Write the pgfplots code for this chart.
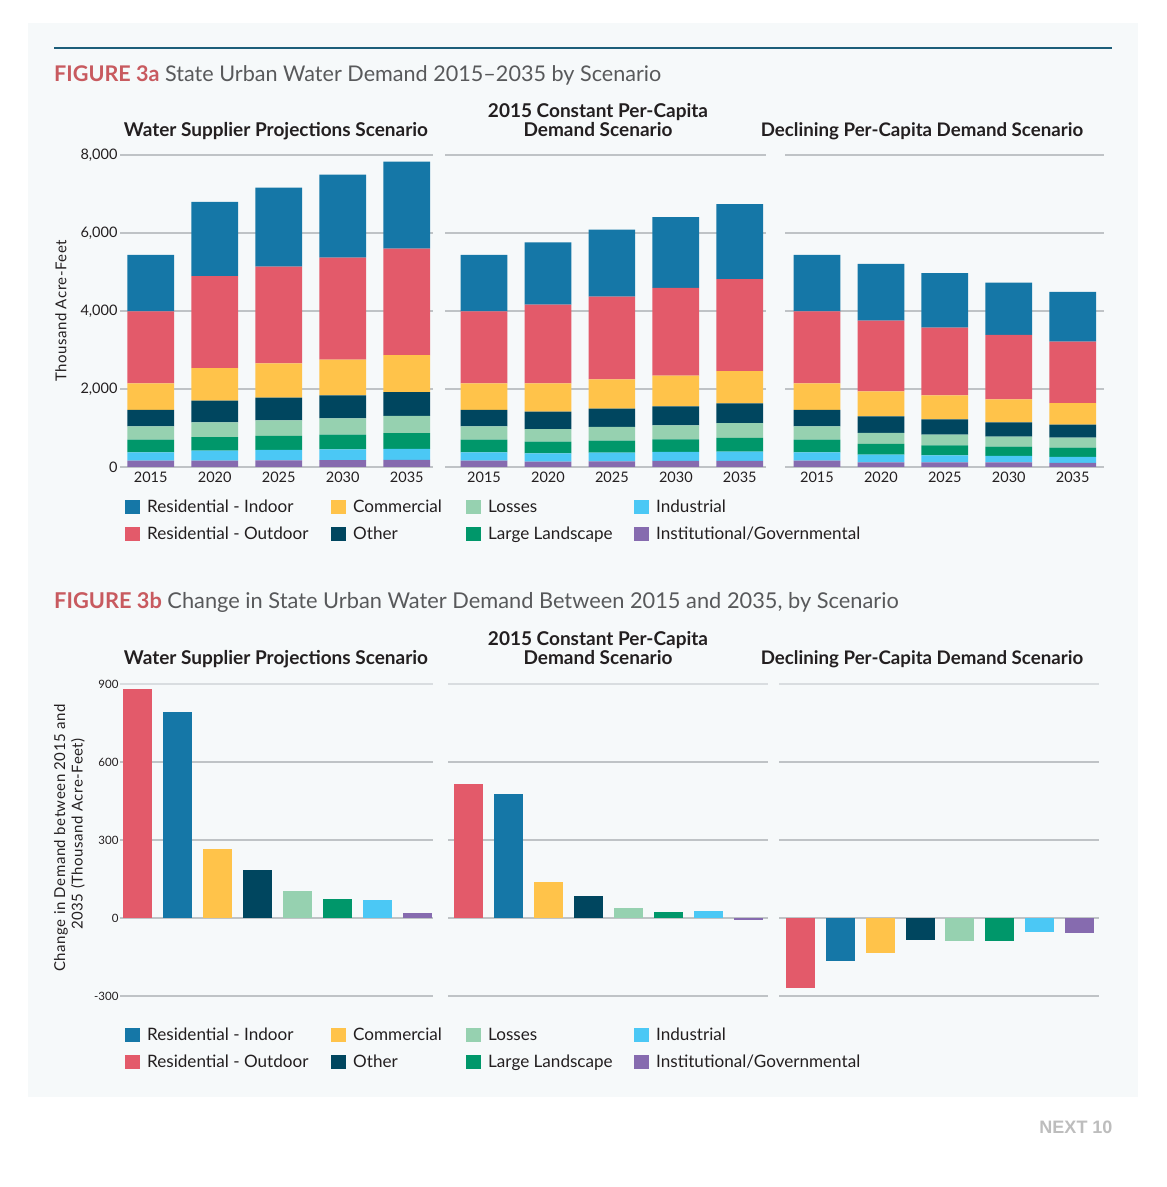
\documentclass[border=0pt]{standalone}
\usepackage{fontspec}
\setmainfont{Lato}
\newfontfamily\nextfont{Liberation Sans}
\newfontfamily\spaced[LetterSpace=3.5]{Lato}
\usepackage{pgfplots}
\usepackage{pgfplotstable}
\pgfplotsset{compat=1.18}

\definecolor{cIn}{HTML}{1577A7}
\definecolor{cOut}{HTML}{E35A6A}
\definecolor{cCom}{HTML}{FFC34A}
\definecolor{cOth}{HTML}{00465F}
\definecolor{cLos}{HTML}{96D1B0}
\definecolor{cLL}{HTML}{00976A}
\definecolor{cInd}{HTML}{4BC8F5}
\definecolor{cIns}{HTML}{866BAF}
\definecolor{cBg}{HTML}{F6F9FA}
\definecolor{cGrid}{HTML}{BFC3C6}
\definecolor{cGridL}{HTML}{D9DDE0}
\definecolor{cRule}{HTML}{1D5E7A}
\definecolor{cFig}{HTML}{C85A5F}
\definecolor{cTitle}{HTML}{58595B}
\definecolor{cNext}{HTML}{BDBDBD}
\definecolor{cText}{HTML}{231F20}

\newcommand\fs[1]{\fontsize{#1pt}{#1pt}\selectfont}

% thousand acre-feet, stacked from the bottom
\pgfplotstableread{
x inst ind ll loss other comm out in
0 162 214 325 342 419 683 1846 1445
1 162 257 350 376 556 837 2359 1898
2 171 265 359 402 581 880 2479 2025
3 179 274 376 419 590 914 2616 2128
4 183 284 399 447 605 950 2728 2237
}\supplier
\pgfplotstableread{
x inst ind ll loss other comm out in
0 162 214 325 342 419 683 1846 1445
1 137 213 300 324 445 726 2017 1599
2 145 223 307 351 470 752 2119 1718
3 154 231 324 359 488 786 2248 1820
4 156 240 349 382 505 823 2363 1922
}\constant
\pgfplotstableread{
x inst ind ll loss other comm out in
0 162 214 325 342 419 683 1846 1445
1 120 196 274 282 427 641 1812 1453
2 120 179 257 273 393 616 1735 1401
3 120 162 239 257 367 590 1650 1341
4 103 159 235 254 336 548 1577 1281
}\declining

\newcommand\stack[1]{%
  \addplot[fill=cIns, draw=none] table[x=x, y=inst] {#1};
  \addplot[fill=cInd, draw=none] table[x=x, y=ind] {#1};
  \addplot[fill=cLL, draw=none] table[x=x, y=ll] {#1};
  \addplot[fill=cLos, draw=none] table[x=x, y=loss] {#1};
  \addplot[fill=cOth, draw=none] table[x=x, y=other] {#1};
  \addplot[fill=cCom, draw=none] table[x=x, y=comm] {#1};
  \addplot[fill=cOut, draw=none] table[x=x, y=out] {#1};
  \addplot[fill=cIn, draw=none] table[x=x, y=in] {#1};
}

% change 2015-2035, one bar per category
\newcommand\change[8]{%
  \addplot[fill=cOut, draw=none] coordinates {(0,#1)};
  \addplot[fill=cIn, draw=none] coordinates {(1,#2)};
  \addplot[fill=cCom, draw=none] coordinates {(2,#3)};
  \addplot[fill=cOth, draw=none] coordinates {(3,#4)};
  \addplot[fill=cLos, draw=none] coordinates {(4,#5)};
  \addplot[fill=cLL, draw=none] coordinates {(5,#6)};
  \addplot[fill=cInd, draw=none] coordinates {(6,#7)};
  \addplot[fill=cIns, draw=none] coordinates {(7,#8)};
}

\pgfplotsset{
  base/.style={
    scale only axis, height=312pt,
    axis line style={draw=none}, major tick style={draw=none},
    ymajorgrids, grid style={color=cGrid, line width=1.4pt},
    /pgf/number format/assume math mode=true,
    /pgf/number format/1000 sep={,},
    ticklabel style={text=cText},
    clip=false,
  },
  top/.style={
    base, ybar stacked, bar width=46.7pt,
    ymin=0, ymax=8000, ytick={0,2000,4000,6000,8000},
    xtick={0,1,2,3,4}, xticklabels={2015,2020,2025,2030,2035},
    xticklabel style={font=\fs{14.5}, yshift=-1.5pt},
    yticklabel style={font=\fs{14.5}, xshift=1pt},
  },
  bottom/.style={
    base, ybar, bar width=29pt, bar shift=0pt,
    ymin=-300, ymax=900, ytick={-300,0,300,600,900},
    xtick=\empty,
    yticklabel style={font=\fs{11.5}, xshift=2pt},
  },
}

\begin{document}
\begin{tikzpicture}
\fill[white] (0,0) rectangle (1167pt,1187pt);
\useasboundingbox (0,0) rectangle (1167pt,1187pt);

\begin{scope}[x=1pt, y=-1pt, yshift=1187pt]
  \fill[cBg] (28,23) rectangle (1138,1097);
  \draw[cRule, line width=2pt] (54,48) -- (1112,48);

  \node[anchor=base west, inner sep=0, text=cTitle, font=\fs{21.6}] at (54,82)
    {{\bfseries\color{cFig}FIGURE 3a} State Urban Water Demand 2015--2035 by Scenario};
  \node[anchor=base west, inner sep=0, text=cTitle, font=\fs{21.8}] at (54,609)
    {{\bfseries\color{cFig}FIGURE 3b} Change in State Urban Water Demand Between 2015 and 2035, by Scenario};

  \foreach \yy in {0, 528} {
    \node[anchor=base, inner sep=0, font=\bfseries\fs{19}, text=cText] at (276,136.5+\yy) {Water Supplier Projections Scenario};
    \node[anchor=base, inner sep=0, font=\bfseries\fs{19}, text=cText] at (598,117.5+\yy) {2015 Constant Per-Capita};
    \node[anchor=base, inner sep=0, font=\bfseries\fs{19}, text=cText] at (598,136.5+\yy) {Demand Scenario};
    \node[anchor=base, inner sep=0, font=\bfseries\fs{18.7}, text=cText] at (922,136.5+\yy) {Declining Per-Capita Demand Scenario};
  }

  \node[rotate=90, font=\spaced\fs{15}, text=cText] at (61,311) {Thousand Acre-Feet};
  \node[rotate=90, font=\spaced\fs{15}, text=cText] at (61,838) {Change in Demand between 2015 and};
  \node[rotate=90, font=\spaced\fs{15}, text=cText] at (78,834) {2035 (Thousand Acre-Feet)};

  \foreach \yy in {0, 528} {
    \foreach \xx/\yo/\cc/\tt in {
        125/0/cIn/{Residential - Indoor}, 331/0/cCom/{Commercial},
        466/0/cLos/{Losses}, 634/0/cInd/{Industrial},
        125/27/cOut/{Residential - Outdoor}, 331/27/cOth/{Other},
        466/27/cLL/{Large Landscape}, 634/27/cIns/{Institutional/Governmental}} {
      \fill[\cc] (\xx,500+\yo+\yy) rectangle (\xx+15,514+\yo+\yy);
      \node[anchor=base west, inner sep=0, font=\fs{17.1}, text=cText] at (\xx+22,513+\yo+\yy) {\tt};
    }
  }

  \node[font=\nextfont\bfseries\fs{18}, text=cNext] at (1076,1127) {NEXT 10};
\end{scope}

% FIGURE 3a
\begin{axis}[top, at={(120pt,720pt)}, anchor=south west, width=313pt,
  xmin=-0.48, xmax=4.41]
  \stack{\supplier}
\end{axis}
\begin{axis}[top, at={(445pt,720pt)}, anchor=south west, width=321pt,
  xmin=-0.61, xmax=4.41, yticklabels={}]
  \stack{\constant}
\end{axis}
\begin{axis}[top, at={(785pt,720pt)}, anchor=south west, width=319pt,
  xmin=-0.50, xmax=4.49, yticklabels={}]
  \stack{\declining}
\end{axis}

% FIGURE 3b
\begin{axis}[bottom, at={(120pt,191pt)}, anchor=south west, width=313pt,
  xmin=-0.44, xmax=7.39]
  \draw[cGridL, line width=2.6pt] (rel axis cs:0,1) -- (rel axis cs:1,1);
  \change{882}{792}{267}{186}{105}{74}{70}{21}
\end{axis}
\begin{axis}[bottom, at={(448pt,191pt)}, anchor=south west, width=320pt,
  xmin=-0.50, xmax=7.49, yticklabels={}]
  \draw[cGridL, line width=2.6pt] (rel axis cs:0,1) -- (rel axis cs:1,1);
  \change{517}{477}{140}{86}{40}{24}{26}{-6}
\end{axis}
\begin{axis}[bottom, at={(779pt,191pt)}, anchor=south west, width=320pt,
  xmin=-0.54, xmax=7.49, yticklabels={}]
  \draw[cGridL, line width=2.6pt] (rel axis cs:0,1) -- (rel axis cs:1,1);
  \change{-269}{-164}{-135}{-83}{-88}{-90}{-55}{-59}
\end{axis}
\end{tikzpicture}
\end{document}
